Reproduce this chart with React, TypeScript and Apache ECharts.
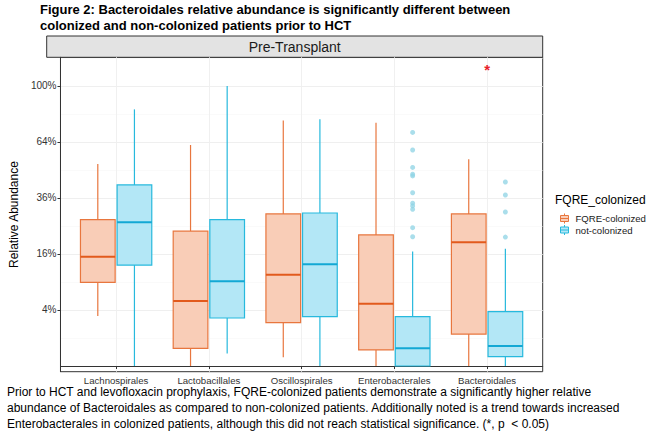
import React, { useEffect, useRef } from "react";
import * as echarts from "echarts";

const CATEGORIES = ["Lachnospirales", "Lactobacillales", "Oscillospirales", "Enterobacterales", "Bacteroidales"];
const GROUPS = ["FQRE-colonized", "not-colonized"];
// [min, Q1, median, Q3, max] relative abundance (fraction)
const FQRE_BOX = [
  [0.032, 0.089, 0.152, 0.273, 0.52],
  [0.0, 0.004, 0.054, 0.232, 0.623],
  [0.001, 0.024, 0.106, 0.295, 0.768],
  [0.0, 0.0033, 0.0495, 0.219, 0.755],
  [0.0, 0.013, 0.195, 0.295, 0.545],
];
const NOTCOL_BOX = [
  [0.0, 0.13, 0.264, 0.418, 0.84],
  [0.002, 0.0294, 0.0915, 0.273, 1.0],
  [0.0, 0.031, 0.132, 0.2986, 0.776],
  [0.0, 0.0, 0.004, 0.031, 0.167],
  [0.0, 0.0011, 0.0051, 0.0376, 0.1755],
];
const ENTERO_OUTLIERS = [0.696, 0.595, 0.503, 0.469, 0.461, 0.383, 0.338, 0.327, 0.313, 0.244, 0.213];
const BACTER_OUTLIERS = [0.432, 0.373, 0.3025, 0.212];
const STAR_CATEGORY = 5;
const STAR_VALUE = 1.12;
const MAJOR_TICKS = [0.04, 0.16, 0.36, 0.64, 1.0];
const MINOR_TICKS = [0.01, 0.09, 0.25, 0.49, 0.81, 1.21];

const TITLE = "Figure 2: Bacteroidales relative abundance is significantly different between\ncolonized and non-colonized patients prior to HCT";
const CAPTION =
  "Prior to HCT and levofloxacin prophylaxis, FQRE-colonized patients demonstrate a significantly higher relative\nabundance of Bacteroidales as compared to non-colonized patients. Additionally noted is a trend towards increased\nEnterobacterales in colonized patients, although this did not reach statistical significance. (*, p  < 0.05)";

const ORANGE = "#E8763E";
const ORANGE_FILL = "#F9CDB7";
const ORANGE_MED = "#E25A1C";
const BLUE = "#27B9DD";
const BLUE_FILL = "#B3E7F6";
const BLUE_MED = "#13A8D4";
const OUTLIER = "#8ED3E4";

const FONT = "Liberation Sans, Arial, sans-serif";
const OFFSET = 0.1975;
const HALF_W = 0.187;

const GRID = { left: 46.7, right: 107.3, top: 57.3, bottom: 66.3 };

function makeRender(offset: number, line: string, fill: string, med: string) {
  return (params: any, api: any) => {
    const x = api.value(0) + offset;
    const pMin = api.coord([x, api.value(1)]);
    const pQ1 = api.coord([x, api.value(2)]);
    const pMed = api.coord([x, api.value(3)]);
    const pQ3 = api.coord([x, api.value(4)]);
    const pMax = api.coord([x, api.value(5)]);
    const left = api.coord([x - HALF_W, api.value(3)])[0];
    const right = api.coord([x + HALF_W, api.value(3)])[0];
    return {
      type: "group",
      children: [
        { type: "line", shape: { x1: pMin[0], y1: pMin[1], x2: pQ1[0], y2: pQ1[1] }, style: { stroke: line, lineWidth: 1.2 } },
        { type: "line", shape: { x1: pQ3[0], y1: pQ3[1], x2: pMax[0], y2: pMax[1] }, style: { stroke: line, lineWidth: 1.2 } },
        {
          type: "rect",
          shape: { x: left, y: pQ3[1], width: right - left, height: pQ1[1] - pQ3[1] },
          style: { fill, stroke: line, lineWidth: 1.2 },
        },
        { type: "line", shape: { x1: left, y1: pMed[1], x2: right, y2: pMed[1] }, style: { stroke: med, lineWidth: 2 } },
      ],
    };
  };
}

const boxData = (rows: number[][]) => rows.map((r, i) => [i + 1, ...r.map((v) => Math.sqrt(v))]);

export default function App() {
  const ref = useRef<HTMLDivElement>(null);
  useEffect(() => {
    if (!ref.current) return;
    const chart = echarts.init(ref.current, null, { renderer: "svg" });
    const sq = MAJOR_TICKS.map(Math.sqrt);
    const sqMinor = MINOR_TICKS.map(Math.sqrt);
    const cats = CATEGORIES.map((_, i) => i + 1);
    const iconPath = "path://M4,0L4,2M0,2L8,2L8,8L0,8ZM0,5L8,5M4,8L4,10";
    chart.setOption({
      animation: false,
      grid: { ...GRID, show: true, borderColor: "#333", borderWidth: 1, backgroundColor: "#fff" },
      title: {
        text: TITLE,
        left: 40,
        top: 1,
        padding: 0,
        textStyle: { fontFamily: FONT, fontSize: 13, fontWeight: "bold", color: "#000", lineHeight: 16 },
      },
      legend: {
        orient: "vertical",
        left: 555,
        top: 208,
        itemWidth: 8,
        itemHeight: 10,
        itemGap: 0.5,
        textStyle: { fontFamily: FONT, fontSize: 9.6, color: "#1a1a1a", padding: [0, 0, 0, 2] },
        data: [
          { name: GROUPS[0], icon: iconPath, itemStyle: { color: ORANGE_FILL, borderColor: ORANGE, borderWidth: 1 } },
          { name: GROUPS[1], icon: iconPath, itemStyle: { color: BLUE_FILL, borderColor: BLUE, borderWidth: 1 } },
        ],
      },
      xAxis: {
        type: "value",
        min: 0.4,
        max: 5.6,
        axisLine: { show: true, lineStyle: { color: "#333" } },
        axisTick: { show: true, customValues: cats, length: 3, lineStyle: { color: "#333" } },
        axisLabel: {
          customValues: cats,
          formatter: (v: number) => CATEGORIES[Math.round(v) - 1] ?? "",
          fontFamily: FONT,
          fontSize: 9.6,
          color: "#333",
          margin: 4,
        },
        splitLine: { show: true, lineStyle: { color: "#f0f0f0", width: 1 } },
      },
      yAxis: [
        {
          type: "value",
          min: -0.0204,
          max: 1.1025,
          name: "Relative Abundance",
          nameLocation: "middle",
          nameRotate: 90,
          nameGap: 36,
          nameTextStyle: { fontFamily: FONT, fontSize: 12, color: "#000" },
          axisLine: { show: true, lineStyle: { color: "#333" } },
          axisTick: { show: true, customValues: sq, length: 3, lineStyle: { color: "#333" } },
          axisLabel: {
            customValues: sq,
            formatter: (v: number) => Math.round(v * v * 100) + "%",
            fontFamily: FONT,
            fontSize: 10,
            color: "#333",
            margin: 4,
          },
          splitLine: { show: true, lineStyle: { color: "#efefef", width: 1 } },
          z: 1,
        },
        {
          type: "value",
          min: -0.0204,
          max: 1.1025,
          position: "left",
          axisLine: { show: false },
          axisTick: { show: false, customValues: sqMinor },
          axisLabel: { show: false, customValues: sqMinor },
          splitLine: { show: true, lineStyle: { color: "#f6f6f6", width: 0.6 } },
        },
      ],
      graphic: [
        {
          type: "rect",
          shape: { x: 46.7, y: 36, width: 496, height: 21.3 },
          style: { fill: "#e3e3e3", stroke: "#333", lineWidth: 1 },
        },
        {
          type: "text",
          x: 294.7,
          y: 47,
          style: { text: "Pre-Transplant", fontFamily: FONT, fontSize: 14, fill: "#1a1a1a", align: "center", verticalAlign: "middle" },
        },
        {
          type: "text",
          x: 555,
          y: 199.5,
          style: { text: "FQRE_colonized", fontFamily: FONT, fontSize: 12, fill: "#000", align: "left", verticalAlign: "middle" },
        },
        {
          type: "text",
          x: 7,
          y: 384,
          style: { text: CAPTION, fontFamily: FONT, fontSize: 12, lineHeight: 16, fill: "#000", align: "left", verticalAlign: "top" },
        },
      ],
      series: [
        {
          name: GROUPS[0],
          type: "custom",
          renderItem: makeRender(-OFFSET, ORANGE, ORANGE_FILL, ORANGE_MED),
          itemStyle: { color: ORANGE_FILL, borderColor: ORANGE },
          encode: { x: 0, y: [1, 2, 3, 4, 5] },
          data: boxData(FQRE_BOX),
          z: 3,
        },
        {
          name: GROUPS[1],
          type: "custom",
          renderItem: makeRender(OFFSET, BLUE, BLUE_FILL, BLUE_MED),
          itemStyle: { color: BLUE_FILL, borderColor: BLUE },
          encode: { x: 0, y: [1, 2, 3, 4, 5] },
          data: boxData(NOTCOL_BOX),
          z: 3,
        },
        {
          name: "outliers",
          type: "scatter",
          symbolSize: 5,
          itemStyle: { color: OUTLIER, opacity: 0.75 },
          data: [
            ...ENTERO_OUTLIERS.map((v) => [4 + OFFSET, Math.sqrt(v)]),
            ...BACTER_OUTLIERS.map((v) => [5 + OFFSET, Math.sqrt(v)]),
          ],
          z: 4,
        },
        {
          name: "significance",
          type: "custom",
          renderItem: (params: any, api: any) => {
            const p = api.coord([api.value(0), api.value(1)]);
            return {
              type: "text",
              x: p[0],
              y: p[1],
              style: { text: "*", fontFamily: FONT, fontSize: 15, fontWeight: "bold", fill: "#E8202A", align: "center", verticalAlign: "middle" },
            };
          },
          data: [[STAR_CATEGORY, Math.sqrt(STAR_VALUE)]],
          z: 5,
        },
      ],
    });
    return () => chart.dispose();
  }, []);
  return <div ref={ref} style={{ width: 650, height: 438, position: "absolute", left: 0, top: 0 }} />;
}
